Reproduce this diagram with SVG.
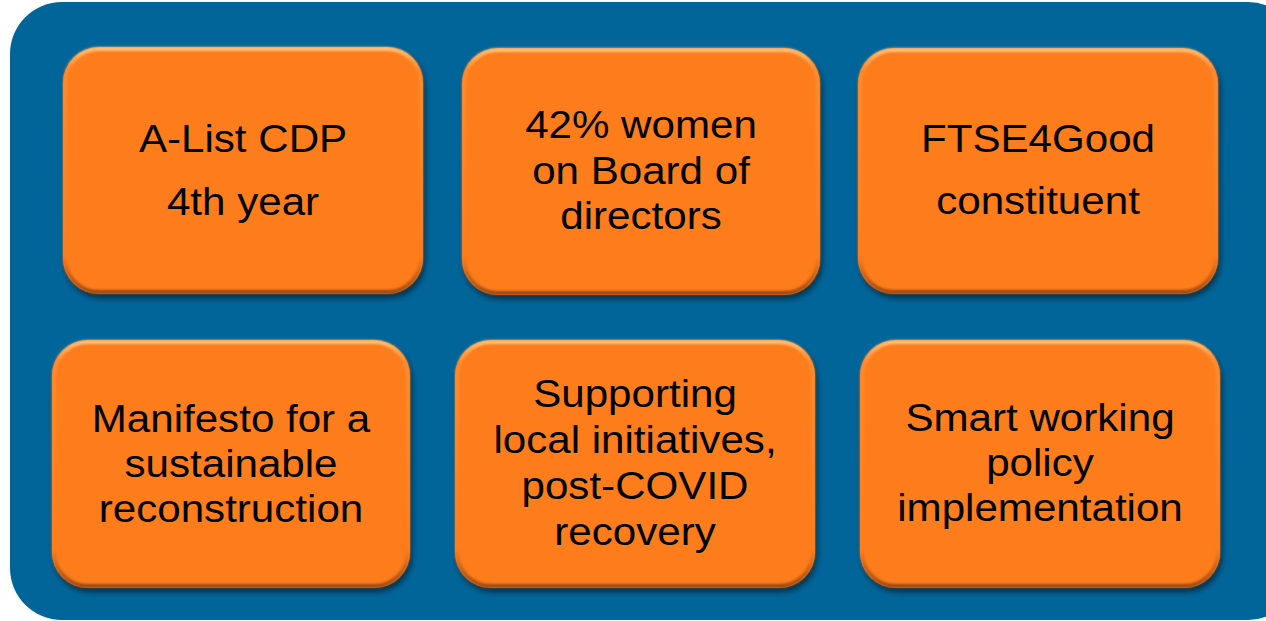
<svg xmlns="http://www.w3.org/2000/svg" width="1266" height="621" viewBox="0 0 1266 621">
  <defs>
    <style>
      .box { fill: #FD7C1D; }
      .bevel { fill: none; stroke: url(#bevelGrad); stroke-width: 4; }
      .lbl { font-family: "Liberation Sans", Arial, sans-serif; font-size: 39px; fill: #000; text-anchor: middle; }
    </style>
    <linearGradient id="bevelGrad" x1="0" y1="0" x2="0" y2="1">
      <stop offset="0" stop-color="#FFC27A"/>
      <stop offset="0.08" stop-color="#FE8C30"/>
      <stop offset="0.85" stop-color="#FD7C1D"/>
      <stop offset="1" stop-color="#9A4A14"/>
    </linearGradient>
    <filter id="shadow" x="-10%" y="-10%" width="125%" height="130%">
      <feGaussianBlur in="SourceAlpha" stdDeviation="3"/>
      <feOffset dx="2" dy="4" result="b"/>
      <feComponentTransfer><feFuncA type="linear" slope="0.55"/></feComponentTransfer>
      <feMerge><feMergeNode/><feMergeNode in="SourceGraphic"/></feMerge>
    </filter>
    <filter id="soft"><feGaussianBlur stdDeviation="1"/></filter>
  </defs>

  <rect id="background" x="10" y="2" width="1290" height="618" rx="52" fill="#02659A"/>

  <g id="connectors"/>

  <g id="node1">
    <rect class="box" x="63" y="47" width="360" height="247" rx="36" filter="url(#shadow)"/>
    <rect class="bevel" x="65" y="49" width="356" height="243" rx="34" filter="url(#soft)"/>
    <text class="lbl" transform="translate(243 152) scale(1.08 1)">A-List CDP</text>
    <text class="lbl" transform="translate(243 215) scale(1.08 1)">4th year</text>
  </g>

  <g id="node2">
    <rect class="box" x="462" y="48" width="358" height="247" rx="36" filter="url(#shadow)"/>
    <rect class="bevel" x="464" y="50" width="354" height="243" rx="34" filter="url(#soft)"/>
    <text class="lbl" transform="translate(641 138) scale(1.08 1)">42% women</text>
    <text class="lbl" transform="translate(641 184) scale(1.08 1)">on Board of</text>
    <text class="lbl" transform="translate(641 229) scale(1.08 1)">directors</text>
  </g>

  <g id="node3">
    <rect class="box" x="858" y="48" width="360" height="246" rx="36" filter="url(#shadow)"/>
    <rect class="bevel" x="860" y="50" width="356" height="242" rx="34" filter="url(#soft)"/>
    <text class="lbl" transform="translate(1038 152) scale(1.08 1)">FTSE4Good</text>
    <text class="lbl" transform="translate(1038 214) scale(1.08 1)">constituent</text>
  </g>

  <g id="node4">
    <rect class="box" x="52" y="340" width="358" height="248" rx="36" filter="url(#shadow)"/>
    <rect class="bevel" x="54" y="342" width="354" height="244" rx="34" filter="url(#soft)"/>
    <text class="lbl" transform="translate(231 432) scale(1.08 1)">Manifesto for a</text>
    <text class="lbl" transform="translate(231 477) scale(1.08 1)">sustainable</text>
    <text class="lbl" transform="translate(231 522) scale(1.08 1)">reconstruction</text>
  </g>

  <g id="node5">
    <rect class="box" x="455" y="340" width="360" height="248" rx="36" filter="url(#shadow)"/>
    <rect class="bevel" x="457" y="342" width="356" height="244" rx="34" filter="url(#soft)"/>
    <text class="lbl" transform="translate(635 407) scale(1.08 1)">Supporting</text>
    <text class="lbl" transform="translate(635 453) scale(1.08 1)">local initiatives,</text>
    <text class="lbl" transform="translate(635 499) scale(1.08 1)">post-COVID</text>
    <text class="lbl" transform="translate(635 545) scale(1.08 1)">recovery</text>
  </g>

  <g id="node6">
    <rect class="box" x="860" y="340" width="360" height="248" rx="36" filter="url(#shadow)"/>
    <rect class="bevel" x="862" y="342" width="356" height="244" rx="34" filter="url(#soft)"/>
    <text class="lbl" transform="translate(1040 431) scale(1.08 1)">Smart working</text>
    <text class="lbl" transform="translate(1040 476) scale(1.08 1)">policy</text>
    <text class="lbl" transform="translate(1040 521) scale(1.08 1)">implementation</text>
  </g>
</svg>
